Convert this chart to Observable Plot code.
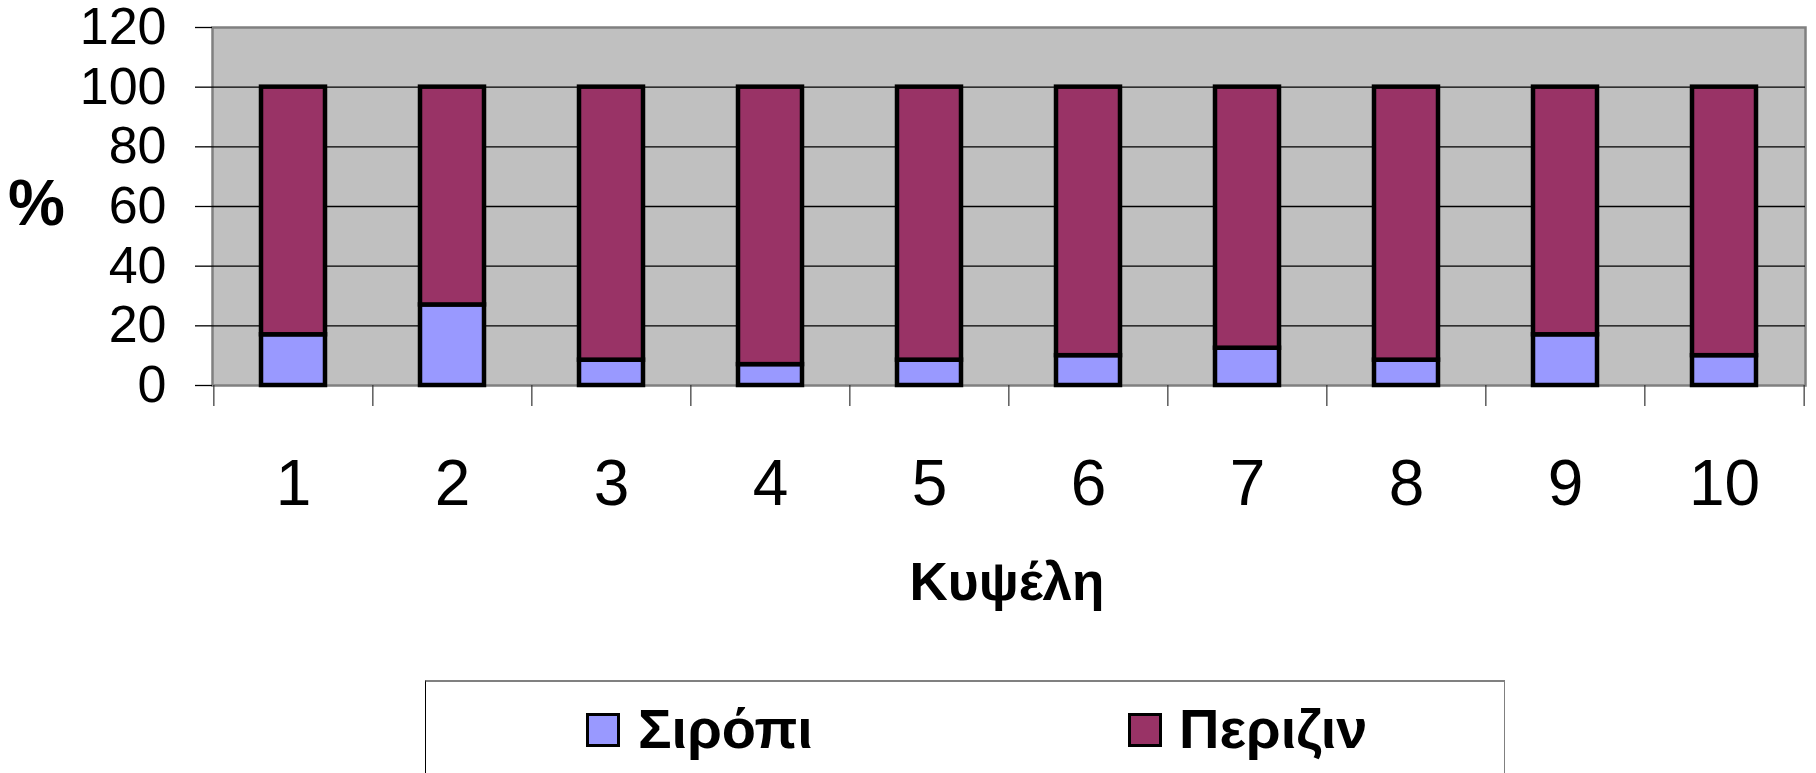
<!DOCTYPE html>
<html>
<head>
<meta charset="utf-8">
<script src="https://cdn.jsdelivr.net/npm/d3@7"></script>
<script src="https://cdn.jsdelivr.net/npm/@observablehq/plot@0.6"></script>
<style>
  html, body { margin: 0; padding: 0; background: #fff; overflow: hidden; }
  #wrap { position: relative; width: 1816px; height: 773px; font-family: "Liberation Sans", Arial, sans-serif; }
  #legend { position: absolute; left: 425px; top: 680px; width: 1080px; height: 140px;
            border-top: 2px solid #808080; border-left: 1.5px solid #000; border-right: 1.5px solid #808080;
            box-sizing: border-box; background: #fff; }
  .sw { position: absolute; top: 31px; width: 34px; height: 34px; border: 3.5px solid #000; box-sizing: border-box; }
  .lb { position: absolute; top: 19px; font-size: 56px; line-height: 56px; font-weight: bold; color: #000; white-space: nowrap; }
</style>
</head>
<body>
<div id="wrap"></div>
<script>
// ---- data ----
const hives = ["1", "2", "3", "4", "5", "6", "7", "8", "9", "10"];
const syrup = [17, 27, 8.5, 7, 8.5, 10, 12.5, 8.5, 17, 10];          // Σιρόπι
const perizin = [83, 73, 91.5, 93, 91.5, 90, 87.5, 91.5, 83, 90];    // Περιζιν
const seriesNames = ["Σιρόπι", "Περιζιν"];
const seriesColors = ["#9999FF", "#993366"];
const yTicks = [0, 20, 40, 60, 80, 100, 120];
const gridValues = [20, 40, 60, 80, 100];
const xTitle = "Κυψέλη";
const yTitle = "%";

const rows = hives.flatMap((h, i) => [
  {hive: h, series: seriesNames[0], value: syrup[i]},
  {hive: h, series: seriesNames[1], value: perizin[i]}
]);

// ---- layout ----
const W = 1816, H = 680, mL = 212, mR = 11, mT = 27, mB = 295;
const step = (W - mL - mR) / hives.length;

const chart = Plot.plot({
  width: W,
  height: H,
  marginLeft: mL,
  marginRight: mR,
  marginTop: mT,
  marginBottom: mB,
  style: {fontFamily: "'Liberation Sans', Arial, sans-serif", color: "#000", background: "transparent", overflow: "visible"},
  x: {type: "band", domain: hives, paddingInner: 0.6, paddingOuter: 0.3, label: null},
  y: {domain: [0, 120], label: null},
  color: {domain: seriesNames, range: seriesColors},
  marks: [
    Plot.frame({fill: "#C0C0C0", stroke: "#808080", strokeWidth: 2.5}),
    Plot.ruleY(gridValues, {stroke: "#000", strokeWidth: 1.3}),
    Plot.barY(rows, {x: "hive", y: "value", fill: "series", stroke: "#000", strokeWidth: 4.5}),
    Plot.axisY({ticks: yTicks, tickSize: 17, tickPadding: 29, fontSize: 52, label: null, stroke: "#000", strokeWidth: 1.3}),
    Plot.axisX({tickSize: 0, tickPadding: 74, fontSize: 64, label: null}),
    Plot.ruleX(hives, {x: d => d, y1: 0, y2: 0, insetBottom: -21, dx: -step / 2, stroke: "#333", strokeWidth: 1.2}),
    Plot.ruleX(hives.slice(-1), {x: d => d, y1: 0, y2: 0, insetBottom: -21, dx: step / 2, stroke: "#333", strokeWidth: 1.2}),
    Plot.text([yTitle], {frameAnchor: "left", lineAnchor: "middle", dx: -176, dy: -2, text: d => d, fontSize: 64, fontWeight: "bold", textAnchor: "middle"}),
    Plot.text([xTitle], {frameAnchor: "bottom", lineAnchor: "middle", dy: 198, dx: -2, text: d => d, fontSize: 53, fontWeight: "bold", textAnchor: "middle"})
  ]
});

const wrap = document.getElementById("wrap");
wrap.appendChild(chart);

// ---- legend (below the SVG) ----
const colorScale = chart.scale("color");
const legend = document.createElement("div");
legend.id = "legend";
const swLeft = [160, 702];
const lbLeft = [212, 753];
seriesNames.forEach((name, i) => {
  const sw = document.createElement("div");
  sw.className = "sw";
  sw.style.left = swLeft[i] + "px";
  sw.style.background = colorScale.range[i];
  const lb = document.createElement("div");
  lb.className = "lb";
  lb.style.left = lbLeft[i] + "px";
  lb.textContent = name;
  legend.appendChild(sw);
  legend.appendChild(lb);
});
wrap.appendChild(legend);
</script>
</body>
</html>
